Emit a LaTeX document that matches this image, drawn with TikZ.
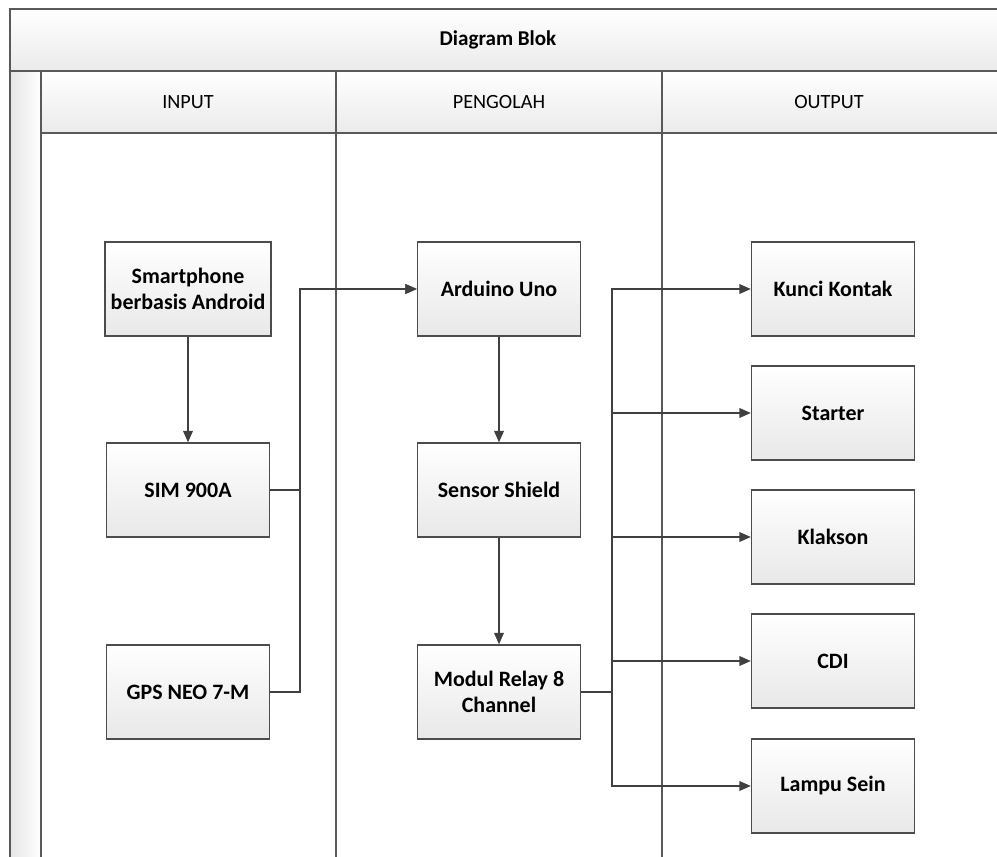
\documentclass[tikz,border=0pt]{standalone}
\usepackage{fontspec}
\setmainfont{Carlito}
\usetikzlibrary{arrows.meta,positioning}

\tikzset{
  blok/.style={draw=black!70, line width=0.8pt, top color=white, bottom color=black!9,
    minimum width=3.26cm, minimum height=1.88cm, align=center,
    font=\fontsize{12.5}{14.5}\selectfont\bfseries},
  panah/.style={draw=black!75, line width=0.8pt, -{Triangle[length=6.5pt,width=5.5pt]}},
  garis/.style={draw=black!65, line width=0.9pt},
  judul/.style={font=\fontsize{11.5}{14}\selectfont}
}

\begin{document}
\begin{tikzpicture}[x=0.02cm,y=-0.02cm]
	\useasboundingbox (0,0) rectangle (997,857);
	\fill[white] (0,0) rectangle (997,857);

		%Header
		\shade[top color=white, bottom color=black!8] (10,9) rectangle (997,71);
		\shade[top color=white, bottom color=black!8] (41,71) rectangle (997,133);
		\shade[left color=black!10, right color=white] (10,71) rectangle (41,857);
		\draw[garis] (997,9) -- (10,9) -- (10,857);
		\draw[garis] (10,71) -- (997,71);
		\draw[garis] (41,133) -- (997,133);
		\foreach \x in {41,336,662}
			\draw[garis] (\x,71) -- (\x,857);

		\node[judul, font=\fontsize{12}{14}\selectfont\bfseries] (judul) at (498,40) {Diagram Blok};
		\node[judul] (input) at (188,102) {INPUT};
		\node[judul] (pengolah) at (499,102) {PENGOLAH};
		\node[judul] (output) at (829,102) {OUTPUT};

		%Input
		\node[blok] (hp) at (188,289) {Smartphone\\berbasis Android};
		\node[blok] (sim) at (188,490) {SIM 900A};
		\node[blok] (gps) at (188,692) {GPS NEO 7-M};

		%Pengolah
		\node[blok] (uno) at (499,289) {Arduino Uno};
		\node[blok] (shield) at (499,490) {Sensor Shield};
		\node[blok] (relay) at (499,692) {Modul Relay 8\\Channel};

		%Output
		\node[blok] (kunci) at (833,289) {Kunci Kontak};
		\node[blok] (starter) at (833,413) {Starter};
		\node[blok] (klakson) at (833,537) {Klakson};
		\node[blok] (cdi) at (833,661) {CDI};
		\node[blok] (sein) at (833,786) {Lampu Sein};

		\coordinate (busA) at (300,0);
		\coordinate (busB) at (612,0);

		\draw[panah] (hp) -- (sim);
		\draw[panah] (sim.east) -- (sim.east -| busA) |- (uno.west);
		\draw[panah] (gps.east) -- (gps.east -| busA) |- (uno.west);
		\draw[panah] (uno) -- (shield);
		\draw[panah] (shield) -- (relay);
		\foreach \b in {kunci,starter,klakson,cdi,sein}
			\draw[panah] (relay.east) -- (relay.east -| busB) |- (\b.west);
\end{tikzpicture}
\end{document}
